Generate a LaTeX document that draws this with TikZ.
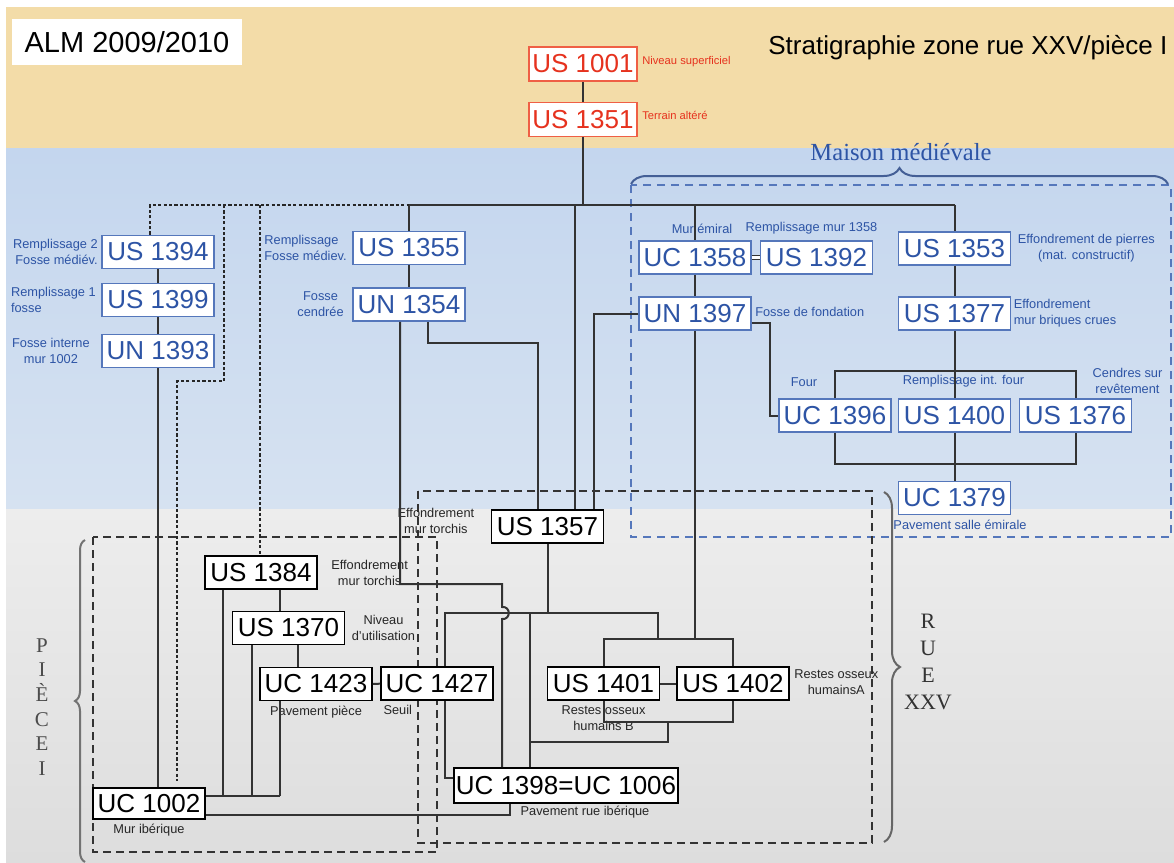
\documentclass[tikz,border=0pt]{standalone}
\usepackage{fontspec}
\setmainfont{Liberation Sans}
\newfontfamily\serifed{Liberation Serif}
\usetikzlibrary{positioning,decorations.pathreplacing}
\definecolor{sand}{HTML}{F3DCA8}
\definecolor{skytop}{HTML}{C4D6EE}
\definecolor{skybot}{HTML}{D6E2F1}
\definecolor{greytop}{HTML}{EDEDED}
\definecolor{greybot}{HTML}{DDDDDD}
\definecolor{usblue}{HTML}{2D54A5}
\definecolor{edgeblue}{HTML}{5577BB}
\definecolor{usred}{HTML}{E6321E}
\definecolor{edgered}{HTML}{EF5F45}
\definecolor{wire}{HTML}{333333}

\begin{document}
\begin{tikzpicture}[
    x=0.5pt, y=-0.5pt,
    unit/.style={draw, fill=white, line width=0.9pt, inner sep=0pt, minimum width=56pt, minimum height=16.5pt, font=\fontsize{13}{13}\selectfont},
    bluebox/.style={unit, draw=edgeblue, text=usblue},
    redbox/.style={unit, draw=edgered, text=usred, minimum width=54pt, minimum height=17pt},
    blackbox/.style={unit, draw=black, text=black},
    note/.style={inner sep=0pt, font=\fontsize{6.4}{8}\selectfont, text=usblue},
    darknote/.style={note, text=black!85},
    rednote/.style={note, text=usred, font=\fontsize{5.6}{7}\selectfont},
    link/.style={draw=wire, line width=1pt},
    dotlink/.style={draw=black!85, line width=1pt, dash pattern=on 1.6pt off 1.1pt},
    zone/.style={draw=black!80, line width=0.8pt, dash pattern=on 4pt off 2.5pt},
    bluezone/.style={draw=edgeblue, line width=0.7pt, dash pattern=on 4pt off 3pt},
    curly/.style={decorate, decoration={brace, amplitude=#1}, line width=1pt}
]
\useasboundingbox (0,0) rectangle (1174,863);
\fill[white] (0,0) rectangle (1174,863);
\fill[sand] (6,7) rectangle (1174,148);
\shade[top color=skytop, bottom color=skybot] (6,148) rectangle (1174,509);
\shade[top color=greytop, bottom color=greybot] (6,509) rectangle (1174,863);

\node[fill=white, minimum width=115pt, minimum height=23pt, inner sep=0pt, font=\fontsize{14.5}{14.5}\selectfont] (alm) at (127,42) {ALM 2009/2010};
\node[anchor=west, inner sep=0pt, font=\fontsize{13}{13}\selectfont] (titre) at (768,48) {Stratigraphie zone rue XXV/pièce I};
\node[text=usblue, font=\serifed\fontsize{12.3}{12.3}\selectfont] (maison) at (901,152) {Maison médiévale};

\draw[bluezone] (631,185) rectangle (1171,537);
\draw[zone] (93,537) rectangle (437,852);
\draw[zone] (418,491) rectangle (872,843);
\draw[curly=8pt, draw=edgeblue!80!black] (631,184) -- (1168,184);
\draw[curly=5pt, draw=black!55] (85,862) -- (85,540);
\draw[curly=8pt, draw=black!60] (884,492) -- (884,842);
\node[align=center, text=black!70, font=\serifed\fontsize{10.5}{12.3}\selectfont] (piece) at (42,707) {P\\I\\È\\C\\E\\I};
\node[align=center, text=black!80, font=\serifed\fontsize{11}{13.5}\selectfont] (rue) at (928,662) {R\\U\\E\\XXV};

\node[redbox] (b1001) at (583,64) {US 1001};
\node[redbox] (b1351) at (583,119.5) {US 1351};

\node[bluebox] (b1394) at (158,252) {US 1394};
\node[bluebox] (b1399) at (158,300) {US 1399};
\node[bluebox] (b1393) at (158,351) {UN 1393};
\node[bluebox] (b1355) at (409,248) {US 1355};
\node[bluebox] (b1354) at (409,304.5) {UN 1354};
\node[bluebox] (b1358) at (695,257.5) {UC 1358};
\node[bluebox] (b1392) at (816.5,257.5) {US 1392};
\node[bluebox] (b1353) at (954.5,248.5) {US 1353};
\node[bluebox] (b1397) at (695,313.5) {UN 1397};
\node[bluebox] (b1377) at (954.5,313.5) {US 1377};
\node[bluebox] (b1396) at (835,415.5) {UC 1396};
\node[bluebox] (b1400) at (954.5,415.5) {US 1400};
\node[bluebox] (b1376) at (1075.5,415.5) {US 1376};
\node[bluebox] (b1379) at (954.5,498) {UC 1379};

\node[blackbox] (b1357) at (547.5,526.5) {US 1357};
\node[blackbox] (b1384) at (261,572.5) {US 1384};
\node[blackbox] (b1370) at (288.5,628) {US 1370};
\node[blackbox] (b1423) at (316,684) {UC 1423};
\node[blackbox] (b1427) at (437,683.5) {UC 1427};
\node[blackbox] (b1401) at (603.5,683.5) {US 1401};
\node[blackbox] (b1402) at (733,683.5) {US 1402};
\node[blackbox, minimum width=112pt, minimum height=17.5pt] (b1398) at (566,785.5) {UC 1398=UC 1006};
\node[blackbox, minimum height=15.5pt] (b1002) at (149,803.5) {UC 1002};

\node[rednote, right=2pt of b1001, yshift=1pt] {Niveau superficiel};
\node[rednote, right=2pt of b1351, yshift=2pt] {Terrain altéré};
\node[note, left=1.5pt of b1394, align=right] {Remplissage 2\\Fosse médiév.};
\node[note, left=2.5pt of b1399, align=left] {Remplissage 1\\fosse};
\node[note, left=5.5pt of b1393, align=center] {Fosse interne\\mur 1002};
\node[note, left=2.5pt of b1355, align=left] {Remplissage\\Fosse médiev.};
\node[note, left=4pt of b1354, align=center] {Fosse\\cendrée};
\node[note, above=3pt of b1358, xshift=3.5pt] {Mur émiral};
\node[note, above=3pt of b1392, xshift=-2.5pt] {Remplissage mur 1358};
\node[note, right=3pt of b1353, align=center] {Effondrement de pierres\\(mat. constructif)};
\node[note, right=1.5pt of b1397, yshift=1pt] {Fosse de fondation};
\node[note, right=1pt of b1377, align=left] {Effondrement\\mur briques crues};
\node[note, above=5.5pt of b1396, xshift=-15.5pt] {Four};
\node[note, above=5.5pt of b1400, xshift=4.5pt] {Remplissage int. four};
\node[note, above=2pt of b1376, xshift=26pt, align=center] {Cendres sur\\revêtement};
\node[note, below=2pt of b1379, xshift=2.75pt] {Pavement salle émirale};

\node[darknote, right=6.5pt of b1384, align=center] {Effondrement\\mur torchis};
\node[darknote, right=3pt of b1370, align=center] {Niveau\\d'utilisation};
\node[darknote, below=2pt of b1423] {Pavement pièce};
\node[darknote, anchor=north west] at ([shift={(3,4)}]b1427.south west) {Seuil};
\node[darknote, below=2pt of b1002] {Mur ibérique};
\node[darknote, left=8pt of b1357, yshift=2.75pt, align=center] {Effondrement\\mur torchis};
\node[darknote, below=2pt of b1401, align=center] {Restes osseux\\humains B};
\node[darknote, right=2pt of b1402, yshift=0.5pt, align=center] {Restes osseux\\humainsA};
\node[darknote, below=1pt of b1398, xshift=9.5pt] {Pavement rue ibérique};

\coordinate (bus) at (583,205);
\draw[link] (b1001) -- (b1351);
\draw[link] (b1351.south) -- (bus);
\draw[link] (b1355.north |- bus) -- (b1353.north |- bus);
\draw[link] (b1355.north |- bus) -- (b1355.north);
\draw[link] (b1355) -- (b1354);
\draw[link] (b1358.north |- bus) -- (b1358.north);
\draw[link] (b1358) -- (b1397);
\draw[link, double, double distance=1.2pt, line width=0.5pt] (b1358) -- (b1392);
\draw[link] (b1353.north |- bus) -- (b1353.north);
\draw[link] (b1353) -- (b1377);
\draw[link] (b1377) -- (b1400);
\draw[link] (b1400) -- (b1379);
\draw[link] (b1396.north) -- (b1396.north |- 0,371) -- (b1376.north |- 0,371) -- (b1376.north);
\draw[link] (b1396.south) -- (b1396.south |- 0,464) -- (b1376.south |- 0,464) -- (b1376.south);
\draw[link] (b1397.east |- 0,323) -| (b1396.west -| 770,0) -- (b1396.west);
\draw[link] (b1397.west) -| (b1357.north -| 594,0);
\draw[link] (b1354.south -| 428,0) |- (538,343) -- (b1357.north -| 538,0);
\draw[link] (bus -| 575,0) -- (b1357.north -| 575,0);
\draw[link] (b1354.south -| 400,0) |- (502,584) -- (502,607) .. controls (511,606) and (511,620) .. (502,619) -- (b1398.north -| 502,0);

\draw[link] (b1357.south) -- (b1357.south |- 0,613);
\draw[link] (b1427.north -| 445,0) |- (658,613) -- (658,639);
\draw[link] (b1401.north) |- (b1402.north |- 0,639) -- (b1402.north);
\draw[link] (b1397.south) -- (b1397.south |- 0,639);
\draw[link] (b1427.south -| 445,0) |- (b1398.west |- 0,778);
\draw[link] (530,613) -- (b1398.north -| 530,0);
\draw[link] (b1401.south) |- (b1402.south |- 0,722) -- (b1402.south);
\draw[link] (668,722) |- (530,742);
\draw[link] (b1401) -- (b1402);
\draw[link] (b1423) -- (b1427);

\draw[link] (b1394) -- (b1399);
\draw[link] (b1399) -- (b1393);
\draw[link] (b1393.south) -- (b1002.north -| b1393.south);
\draw[link] (b1384.south -| 280,0) -- (b1370.north -| 280,0);
\draw[link] (b1370.south -| 298,0) -- (b1423.north -| 298,0);
\draw[link] (b1002.east |- 0,796) -- (280,796);
\draw[link] (b1384.south -| 223,0) -- (223,796);
\draw[link] (b1370.south -| 252,0) -- (252,796);
\draw[link] (b1423.south -| 280,0) -- (280,796);
\draw[link] (b1002.east |- 0,815) -| (b1398.south -| 510,0);

\draw[dotlink] (b1394.north -| 150,0) |- (b1355.north |- bus);
\draw[dotlink] (224,205) |- (177,381) -- (177,781);
\draw[dotlink] (260,205) -- (b1384.north -| 260,0);
\end{tikzpicture}
\end{document}
